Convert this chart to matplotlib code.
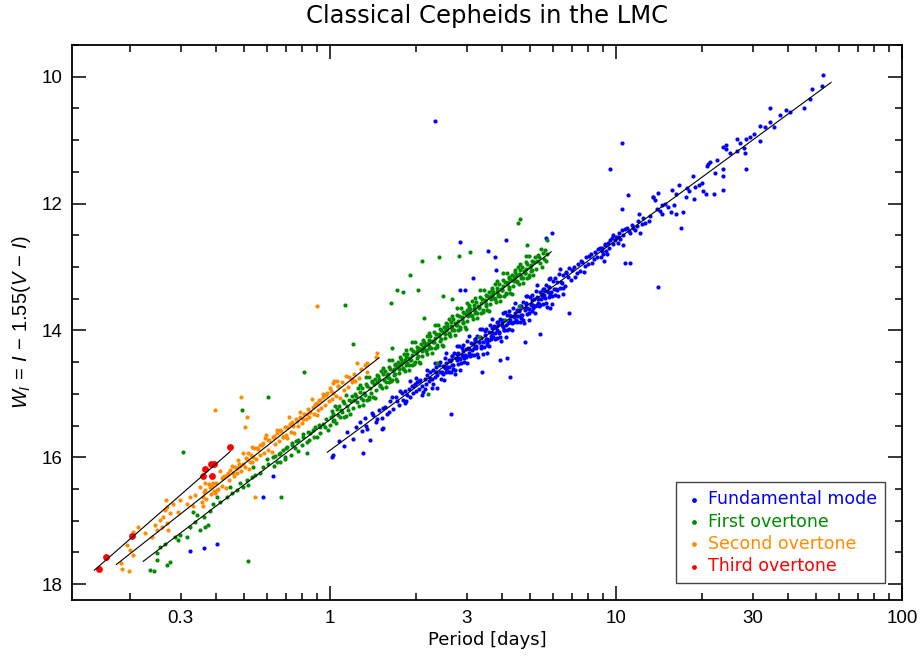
"""
Relation période-luminosité (Wesenheit) des Céphéides classiques du LMC.
Produit : out.png
"""

import numpy as np
import matplotlib
matplotlib.use("Agg")
import matplotlib.pyplot as plt
from matplotlib.ticker import FixedLocator, FuncFormatter, MultipleLocator

# Points : (log10 P [jours], W_I)
fund_pts = np.array([
    (0.01, 15.97), (0.03, 15.74), (0.05, 15.82), (0.06, 15.60), (0.08, 15.71),
    (0.09, 15.52), (0.11, 15.58), (0.12, 15.38), (0.13, 15.55), (0.15, 15.34),
    (0.16, 15.45), (0.17, 15.25), (0.18, 15.38), (0.19, 15.20), (0.20, 15.31),
    (0.21, 15.12), (0.22, 15.24), (0.23, 15.05), (0.24, 15.18), (0.25, 14.98),
    (0.255, 15.10), (0.26, 14.95), (0.265, 15.12), (0.27, 15.01), (0.275, 14.92),
    (0.28, 15.05), (0.285, 14.88), (0.29, 14.99), (0.295, 14.85), (0.30, 14.96),
    (0.305, 14.82), (0.31, 14.93), (0.315, 14.78), (0.32, 14.88), (0.325, 14.97),
    (0.33, 14.76), (0.335, 14.84), (0.34, 14.70), (0.345, 14.80), (0.35, 14.65),
    (0.355, 14.77), (0.36, 14.62), (0.365, 14.74), (0.37, 14.58), (0.375, 14.70),
    (0.28, 14.80), (0.30, 14.75), (0.32, 15.02), (0.34, 14.62), (0.36, 14.85),
    (0.105, 15.45), (0.125, 15.50), (0.145, 15.30), (0.165, 15.40), (0.185, 15.22),
    (0.205, 15.28), (0.215, 15.05), (0.235, 15.12), (0.245, 14.96), (0.26, 15.15),
    (0.29, 14.88), (0.31, 14.80), (0.33, 14.92), (0.35, 14.75), (0.37, 14.66),
    (0.380, 14.54), (0.384, 14.66), (0.387, 14.76), (0.390, 14.66), (0.394, 14.56),
    (0.397, 14.78), (0.400, 14.44), (0.404, 14.66), (0.407, 14.57), (0.410, 14.64),
    (0.414, 14.46), (0.417, 14.57), (0.420, 14.48), (0.424, 14.65), (0.427, 14.40),
    (0.430, 14.55), (0.434, 14.35), (0.437, 14.69), (0.440, 14.44), (0.444, 14.37),
    (0.447, 14.53), (0.450, 14.24), (0.454, 14.45), (0.457, 14.52), (0.460, 14.28),
    (0.464, 14.40), (0.467, 14.50), (0.470, 14.39), (0.474, 14.29), (0.477, 14.51),
    (0.480, 14.17), (0.484, 14.39), (0.487, 14.30), (0.490, 14.38), (0.494, 14.20),
    (0.497, 14.31), (0.500, 14.22), (0.504, 14.39), (0.507, 14.14), (0.510, 14.28),
    (0.514, 14.08), (0.517, 14.42), (0.520, 14.18), (0.524, 14.11), (0.527, 14.27),
    (0.530, 13.98), (0.534, 14.19), (0.537, 14.26), (0.540, 14.01), (0.544, 14.13),
    (0.547, 14.23), (0.550, 14.13), (0.554, 14.03), (0.557, 14.25), (0.560, 13.91),
    (0.564, 14.13), (0.567, 14.04), (0.570, 14.11), (0.574, 13.93), (0.577, 14.04),
    (0.580, 13.95), (0.584, 14.12), (0.587, 13.87), (0.590, 14.02), (0.594, 13.82),
    (0.597, 14.16), (0.600, 13.91), (0.604, 13.84), (0.607, 14.00), (0.610, 13.71),
    (0.614, 13.92), (0.617, 13.99), (0.620, 13.75), (0.624, 13.87), (0.627, 13.97),
    (0.630, 13.87), (0.634, 13.77), (0.637, 13.99), (0.640, 13.64), (0.644, 13.86),
    (0.647, 13.77), (0.650, 13.85), (0.654, 13.67), (0.657, 13.78), (0.660, 13.69),
    (0.664, 13.86), (0.667, 13.61), (0.670, 13.75), (0.674, 13.55), (0.677, 13.89),
    (0.680, 13.65), (0.684, 13.58), (0.687, 13.74), (0.690, 13.45), (0.694, 13.66),
    (0.697, 13.73), (0.700, 13.48), (0.704, 13.60), (0.707, 13.70), (0.710, 13.60),
    (0.714, 13.50), (0.717, 13.72), (0.720, 13.38), (0.724, 13.60), (0.727, 13.51),
    (0.730, 13.58), (0.734, 13.40), (0.737, 13.51), (0.740, 13.42), (0.744, 13.59),
    (0.747, 13.34), (0.750, 13.49), (0.754, 13.29), (0.757, 13.63), (0.760, 13.38),
    (0.764, 13.31), (0.767, 13.47), (0.770, 13.18), (0.774, 13.39), (0.777, 13.46),
    (0.780, 13.22), (0.784, 13.34), (0.787, 13.44), (0.790, 13.34), (0.794, 13.24),
    (0.797, 13.46), (0.800, 13.11), (0.804, 13.33), (0.807, 13.24),
    (0.402, 14.59), (0.406, 14.52), (0.409, 14.64), (0.422, 14.47), (0.426, 14.55),
    (0.429, 14.60), (0.442, 14.47), (0.446, 14.35), (0.449, 14.43), (0.462, 14.39),
    (0.466, 14.32), (0.469, 14.44), (0.482, 14.27), (0.486, 14.35), (0.489, 14.40),
    (0.502, 14.28), (0.506, 14.16), (0.509, 14.24), (0.522, 14.19), (0.526, 14.12),
    (0.529, 14.24), (0.542, 14.07), (0.546, 14.15), (0.549, 14.20), (0.562, 14.08),
    (0.566, 13.96), (0.569, 14.04), (0.582, 13.99), (0.586, 13.92), (0.589, 14.04),
    (0.602, 13.87), (0.606, 13.95), (0.609, 14.00), (0.622, 13.88), (0.626, 13.76),
    (0.629, 13.84), (0.642, 13.79), (0.646, 13.72), (0.649, 13.84), (0.662, 13.68),
    (0.666, 13.76), (0.669, 13.81), (0.682, 13.68), (0.686, 13.56), (0.689, 13.64),
    (0.702, 13.59), (0.706, 13.52), (0.709, 13.64), (0.722, 13.48), (0.726, 13.56),
    (0.729, 13.61), (0.742, 13.48), (0.746, 13.36), (0.749, 13.44), (0.762, 13.39),
    (0.766, 13.32), (0.769, 13.44),
    (0.355, 14.90), (0.365, 14.51), (0.375, 14.90), (0.385, 14.50), (0.395, 14.68),
    (0.405, 14.35), (0.415, 14.66), (0.425, 14.40), (0.435, 14.63), (0.445, 14.25),
    (0.455, 14.63), (0.465, 14.23), (0.475, 14.42), (0.485, 14.08), (0.495, 14.39),
    (0.505, 14.14), (0.515, 14.37), (0.525, 13.98), (0.535, 14.37), (0.545, 13.97),
    (0.555, 14.15), (0.565, 13.82), (0.575, 14.13), (0.585, 13.87), (0.595, 14.10),
    (0.605, 13.72), (0.615, 14.10), (0.625, 13.70), (0.635, 13.89), (0.645, 13.56),
    (0.655, 13.86), (0.665, 13.61), (0.675, 13.84), (0.685, 13.45), (0.695, 13.84),
    (0.705, 13.44), (0.715, 13.62), (0.725, 13.29), (0.735, 13.60), (0.745, 13.34),
    (0.755, 13.57), (0.765, 13.19), (0.775, 13.58), (0.785, 13.17), (0.795, 13.36),
    (0.805, 13.03), (0.815, 13.33), (0.825, 13.08),
    (0.812, 13.25), (0.816, 13.12), (0.822, 13.30), (0.826, 13.10), (0.832, 13.16),
    (0.836, 13.02), (0.842, 13.20), (0.846, 13.05), (0.852, 13.00), (0.856, 13.15),
    (0.862, 13.10), (0.866, 12.96), (0.872, 13.06), (0.876, 12.90), (0.882, 12.92),
    (0.886, 13.08), (0.892, 12.99), (0.896, 12.85), (0.902, 12.95), (0.906, 12.82),
    (0.912, 12.80), (0.916, 12.93), (0.922, 12.88), (0.926, 12.76), (0.932, 12.85),
    (0.936, 12.72), (0.942, 12.70), (0.946, 12.84),
    (0.950, 12.70), (0.955, 12.80), (0.960, 12.66), (0.965, 12.75), (0.970, 12.62),
    (0.975, 12.70), (0.985, 12.55), (0.990, 12.64), (0.995, 12.58), (1.000, 12.52),
    (1.005, 12.62), (1.010, 12.47), (1.015, 12.56), (1.025, 12.50), (1.030, 12.40),
    (1.045, 12.44), (1.055, 12.33), (1.065, 12.42), (1.075, 12.28), (1.100, 12.30),
    (1.724, 9.98), (1.720, 10.14), (1.685, 10.19), (1.678, 10.35), (1.657, 10.49),
    (1.595, 10.52), (1.538, 10.49), (1.538, 10.71), (1.573, 10.61), (1.552, 10.79),
    (1.503, 10.77), (1.503, 11.02), (1.483, 10.90), (1.455, 10.98), (1.423, 10.98),
    (1.434, 11.05), (1.448, 11.13), (1.451, 11.21), (1.423, 11.17), (1.385, 11.08),
    (1.374, 11.11), (1.385, 11.14), (1.353, 11.32), (1.322, 11.37), (1.330, 11.34),
    (1.318, 11.40), (1.346, 11.51), (1.374, 11.46), (1.374, 11.57), (1.374, 11.78),
    (1.343, 11.85), (1.269, 11.57), (1.301, 11.67), (1.290, 11.70), (1.276, 11.74),
    (1.248, 11.76), (1.220, 11.70), (1.196, 11.78), (1.210, 11.85), (1.245, 11.90),
    (1.273, 11.92), (1.315, 11.85), (1.305, 11.80), (1.234, 12.14), (1.203, 12.03),
    (1.192, 12.14), (1.208, 12.17), (1.182, 12.05), (1.161, 12.02), (1.147, 11.83),
    (1.130, 11.90), (1.137, 11.95), (1.143, 12.08), (1.161, 12.16), (1.152, 12.12),
    (1.115, 12.27), (1.094, 12.22), (1.080, 12.16), (1.091, 12.32), (1.073, 12.35),
    (1.060, 12.39), (1.038, 12.39), (1.049, 12.47), (1.021, 12.42), (1.007, 12.53),
    (0.990, 12.50), (0.979, 12.58), (0.962, 12.63), (0.951, 12.74), (0.969, 12.79),
    (0.958, 12.90), (1.024, 12.66), (1.084, 12.47), (1.120, 12.20), (1.170, 12.00),
    (1.255, 11.80), (1.400, 11.20), (1.470, 10.95), (1.520, 10.80), (1.610, 10.55),
    (-0.49, 17.48), (-0.44, 17.43), (-0.395, 17.37), (-0.20, 16.30), (-0.234, 16.63),
    (0.007, 16.00), (0.115, 15.94), (0.14, 15.72), (0.18, 15.55), (0.367, 10.70),
    (0.455, 12.60), (0.552, 12.74), (0.615, 12.58), (0.577, 12.85), (0.755, 12.55),
    (0.776, 12.47), (0.50, 13.18), (0.455, 13.37), (0.47, 13.37), (0.58, 13.04),
    (1.03, 12.93), (1.05, 12.93), (1.147, 13.32), (0.423, 15.31), (0.185, 15.54),
    (0.629, 14.74), (1.04, 11.87), (1.13, 11.90), (1.02, 12.08), (1.02, 11.04),
    (0.98, 11.45), (1.227, 12.39), (1.455, 11.45), (0.619, 14.44), (0.68, 14.19),
    (0.734, 14.06), (0.77, 13.65), (0.815, 13.43), (0.836, 13.73), (0.53, 14.66),
    (0.594, 14.47), (0.55, 14.36),
])

first_pts = np.array([
    (-0.629, 17.78), (-0.615, 17.79), (-0.605, 17.51), (-0.570, 17.70), (-0.560, 17.65),
    (-0.605, 17.62), (-0.594, 17.42), (-0.577, 17.36), (-0.531, 17.31), (-0.524, 17.23),
    (-0.500, 17.26), (-0.542, 17.26), (-0.490, 17.10), (-0.472, 17.02), (-0.455, 17.15),
    (-0.437, 17.10), (-0.427, 17.07), (-0.465, 16.91), (-0.479, 16.87), (-0.440, 16.94),
    (-0.420, 16.84), (-0.409, 16.73), (-0.385, 16.71), (-0.395, 16.63), (-0.360, 16.63),
    (-0.343, 16.57), (-0.350, 16.47), (-0.325, 16.52), (-0.315, 16.41), (-0.304, 16.47),
    (-0.290, 16.36), (-0.287, 16.44), (-0.273, 16.31), (-0.262, 16.28), (-0.269, 16.16),
    (-0.245, 16.25), (-0.234, 16.16), (-0.217, 16.10), (-0.220, 16.02), (-0.200, 16.00),
    (-0.185, 16.08), (-0.175, 15.94), (-0.164, 15.89), (-0.150, 15.84), (-0.157, 16.02),
    (-0.133, 15.78), (-0.122, 15.86), (-0.112, 15.73), (-0.094, 15.68), (-0.080, 15.76),
    (-0.070, 15.62), (-0.059, 15.57), (-0.045, 15.68), (-0.035, 15.53), (-0.024, 15.47),
    (-0.007, 15.57), (0.010, 15.42), (-0.080, 15.94),
    (-0.198, 16.14), (-0.194, 15.98), (-0.178, 15.95), (-0.174, 16.08), (-0.158, 15.99),
    (-0.154, 15.85), (-0.138, 15.96), (-0.134, 15.80), (-0.118, 15.75), (-0.114, 15.90),
    (-0.098, 15.80), (-0.094, 15.64), (-0.078, 15.60), (-0.074, 15.72), (-0.058, 15.68),
    (-0.054, 15.52), (-0.038, 15.49), (-0.034, 15.62), (-0.018, 15.52), (-0.014, 15.40),
    (0.000, 15.49), (0.004, 15.37), (0.007, 15.27), (0.010, 15.31), (0.014, 15.41),
    (0.017, 15.19), (0.020, 15.46), (0.024, 15.24), (0.027, 15.33), (0.030, 15.19),
    (0.034, 15.37), (0.037, 15.26), (0.040, 15.28), (0.044, 15.11), (0.047, 15.36),
    (0.050, 15.15), (0.054, 15.35), (0.057, 15.01), (0.060, 15.19), (0.064, 15.26),
    (0.067, 15.10), (0.070, 15.32), (0.074, 15.11), (0.077, 15.04), (0.080, 15.22),
    (0.084, 15.10), (0.087, 15.00), (0.090, 15.03), (0.094, 15.13), (0.097, 14.91),
    (0.100, 15.19), (0.104, 14.97), (0.107, 15.06), (0.110, 14.91), (0.114, 15.09),
    (0.117, 14.98), (0.120, 15.01), (0.124, 14.84), (0.127, 15.09), (0.130, 14.88),
    (0.134, 15.08), (0.137, 14.74), (0.140, 14.91), (0.144, 14.98), (0.147, 14.82),
    (0.150, 15.05), (0.154, 14.84), (0.157, 14.77), (0.160, 14.94), (0.164, 14.82),
    (0.167, 14.72), (0.170, 14.76), (0.174, 14.86), (0.177, 14.64), (0.180, 14.91),
    (0.184, 14.69), (0.187, 14.78), (0.190, 14.64), (0.194, 14.82), (0.197, 14.71),
    (0.200, 14.74), (0.204, 14.57), (0.207, 14.82), (0.210, 14.60), (0.214, 14.80),
    (0.217, 14.46), (0.220, 14.64), (0.224, 14.71), (0.227, 14.55), (0.230, 14.77),
    (0.234, 14.56), (0.237, 14.49), (0.240, 14.67), (0.244, 14.55), (0.247, 14.45),
    (0.250, 14.49), (0.254, 14.59), (0.257, 14.37), (0.260, 14.64), (0.264, 14.42),
    (0.267, 14.51), (0.270, 14.37), (0.274, 14.55), (0.277, 14.44), (0.280, 14.46),
    (0.284, 14.29), (0.287, 14.54), (0.290, 14.33), (0.294, 14.53), (0.297, 14.19),
    (0.300, 14.36), (0.304, 14.43), (0.307, 14.27), (0.310, 14.50), (0.314, 14.29),
    (0.317, 14.22), (0.320, 14.40), (0.324, 14.28), (0.327, 14.18), (0.330, 14.21),
    (0.334, 14.31), (0.337, 14.09), (0.340, 14.37), (0.344, 14.15), (0.347, 14.24),
    (0.350, 14.09), (0.354, 14.27), (0.357, 14.16), (0.360, 14.19), (0.364, 14.02),
    (0.367, 14.27), (0.370, 14.06), (0.374, 14.26), (0.377, 13.92), (0.380, 14.09),
    (0.384, 14.16), (0.387, 14.00), (0.390, 14.23), (0.394, 14.02), (0.397, 13.95),
    (0.400, 14.12), (0.404, 14.00), (0.407, 13.90), (0.410, 13.94), (0.414, 14.04),
    (0.417, 13.82), (0.420, 14.09), (0.424, 13.87), (0.427, 13.96), (0.430, 13.82),
    (0.434, 14.00), (0.437, 13.89), (0.440, 13.92), (0.444, 13.75), (0.447, 14.00),
    (0.450, 13.78), (0.454, 13.98), (0.457, 13.64), (0.460, 13.82), (0.464, 13.89),
    (0.467, 13.73), (0.470, 13.95), (0.474, 13.74), (0.477, 13.67), (0.480, 13.85),
    (0.484, 13.73), (0.487, 13.63), (0.490, 13.66), (0.494, 13.76), (0.497, 13.54),
    (0.500, 13.82), (0.504, 13.60), (0.507, 13.69), (0.510, 13.55), (0.514, 13.73),
    (0.517, 13.62), (0.520, 13.64), (0.524, 13.47), (0.527, 13.72), (0.530, 13.51),
    (0.534, 13.71), (0.537, 13.37), (0.540, 13.54), (0.544, 13.61), (0.547, 13.45),
    (0.550, 13.68), (0.554, 13.47), (0.557, 13.40), (0.560, 13.58), (0.564, 13.46),
    (0.567, 13.36), (0.570, 13.39), (0.574, 13.49), (0.577, 13.27), (0.580, 13.55),
    (0.584, 13.33), (0.587, 13.42), (0.590, 13.27), (0.594, 13.45), (0.597, 13.34),
    (0.600, 13.37), (0.604, 13.20), (0.607, 13.45), (0.610, 13.23), (0.614, 13.43),
    (0.617, 13.09), (0.620, 13.27), (0.624, 13.34), (0.627, 13.18), (0.630, 13.41),
    (0.634, 13.20), (0.637, 13.13), (0.640, 13.30), (0.644, 13.18), (0.647, 13.08),
    (0.650, 13.12), (0.654, 13.22), (0.657, 13.00), (0.660, 13.27), (0.664, 13.05),
    (0.667, 13.14), (0.670, 13.00), (0.674, 13.18), (0.677, 13.07), (0.680, 13.09),
    (0.684, 12.92), (0.687, 13.17), (0.690, 12.96), (0.694, 13.16), (0.697, 12.82),
    (0.700, 13.00), (0.704, 13.07), (0.707, 12.91), (0.710, 13.13), (0.714, 12.92),
    (0.717, 12.85), (0.720, 13.03), (0.724, 12.91), (0.727, 12.81), (0.730, 12.84),
    (0.734, 12.94), (0.737, 12.72), (0.740, 13.00), (0.744, 12.78), (0.747, 12.87),
    (0.750, 12.73), (0.754, 12.91), (0.757, 12.80),
    (0.202, 14.69), (0.206, 14.75), (0.222, 14.61), (0.226, 14.68), (0.242, 14.60),
    (0.246, 14.53), (0.262, 14.47), (0.266, 14.55), (0.282, 14.46), (0.286, 14.39),
    (0.302, 14.33), (0.306, 14.40), (0.322, 14.32), (0.326, 14.26), (0.342, 14.20),
    (0.346, 14.27), (0.362, 14.19), (0.366, 14.12), (0.382, 14.06), (0.386, 14.13),
    (0.402, 14.05), (0.406, 13.98), (0.422, 13.93), (0.426, 14.00), (0.442, 13.91),
    (0.446, 13.85), (0.462, 13.79), (0.466, 13.86), (0.482, 13.77), (0.486, 13.71),
    (0.502, 13.65), (0.506, 13.72), (0.522, 13.63), (0.526, 13.57), (0.542, 13.52),
    (0.546, 13.59), (0.562, 13.50), (0.566, 13.44), (0.582, 13.38), (0.586, 13.45),
    (0.602, 13.36), (0.606, 13.30), (0.622, 13.24), (0.626, 13.31), (0.642, 13.22),
    (0.646, 13.16), (0.662, 13.11), (0.666, 13.18), (0.682, 13.09), (0.686, 13.03),
    (0.702, 12.97), (0.706, 13.04),
    (0.105, 14.86), (0.115, 15.17), (0.125, 14.73), (0.135, 15.05), (0.145, 14.80),
    (0.155, 15.07), (0.165, 14.70), (0.175, 14.87), (0.185, 14.59), (0.195, 14.89),
    (0.205, 14.46), (0.215, 14.78), (0.225, 14.53), (0.235, 14.80), (0.245, 14.42),
    (0.255, 14.60), (0.265, 14.31), (0.275, 14.62), (0.285, 14.19), (0.295, 14.50),
    (0.305, 14.26), (0.315, 14.52), (0.325, 14.15), (0.335, 14.32), (0.345, 14.04),
    (0.355, 14.35), (0.365, 13.91), (0.375, 14.23), (0.385, 13.98), (0.395, 14.25),
    (0.405, 13.88), (0.415, 14.05), (0.425, 13.77), (0.435, 14.07), (0.445, 13.64),
    (0.455, 13.95), (0.465, 13.71), (0.475, 13.98), (0.485, 13.60), (0.495, 13.78),
    (0.505, 13.49), (0.515, 13.80), (0.525, 13.37), (0.535, 13.68), (0.545, 13.44),
    (0.555, 13.70), (0.565, 13.33), (0.575, 13.50), (0.585, 13.22), (0.595, 13.53),
    (0.605, 13.09), (0.615, 13.41), (0.625, 13.16), (0.635, 13.43), (0.645, 13.05),
    (0.655, 13.23), (0.665, 12.95), (0.675, 13.25), (0.685, 12.82), (0.695, 13.13),
    (-0.514, 15.92), (-0.287, 17.64), (-0.171, 16.63), (-0.308, 15.26), (-0.217, 15.05),
    (-0.091, 14.66), (0.080, 14.22), (0.217, 14.28), (0.664, 12.24), (0.657, 12.31),
    (0.689, 12.66), (0.759, 12.57), (0.490, 12.76), (0.451, 12.82), (0.381, 12.85),
    (0.322, 12.91), (0.280, 13.13), (0.234, 13.37), (0.255, 13.39), (0.308, 13.37),
    (0.395, 13.46), (0.427, 13.51), (0.213, 13.57), (0.329, 13.81), (0.479, 13.57),
    (0.661, 13.61), (0.612, 13.83), (0.521, 14.11), (0.374, 14.52), (0.343, 15.00),
    (0.052, 13.60),
])

second_pts = np.array([
    (-0.732, 17.67), (-0.705, 17.79), (-0.729, 17.76), (-0.711, 17.39), (-0.699, 17.46),
    (-0.689, 17.54), (-0.689, 17.18), (-0.671, 17.10), (-0.647, 17.20), (-0.622, 17.26),
    (-0.612, 17.07), (-0.605, 17.15), (-0.587, 17.10), (-0.594, 16.99), (-0.584, 16.94),
    (-0.570, 17.04), (-0.566, 17.15), (-0.559, 16.88), (-0.577, 16.83), (-0.573, 16.68),
    (-0.570, 16.79), (-0.549, 16.73), (-0.531, 16.87), (-0.524, 16.68), (-0.500, 16.73),
    (-0.490, 16.63), (-0.479, 16.76), (-0.472, 16.60), (-0.448, 16.71), (-0.444, 16.63),
    (-0.440, 16.55), (-0.455, 16.47), (-0.437, 16.41), (-0.420, 16.47), (-0.402, 16.57),
    (-0.395, 16.52), (-0.409, 16.41), (-0.378, 16.33), (-0.374, 16.31), (-0.360, 16.28),
    (-0.350, 16.20), (-0.339, 16.25), (-0.325, 16.17), (-0.315, 16.13), (-0.322, 16.05),
    (-0.304, 16.10), (-0.290, 16.02), (-0.280, 16.08), (-0.269, 16.00), (-0.287, 15.94),
    (-0.273, 15.84), (-0.255, 15.86), (-0.245, 15.81), (-0.234, 15.78), (-0.227, 15.70),
    (-0.217, 15.73), (-0.199, 15.68), (-0.185, 15.62), (-0.175, 15.57), (-0.164, 15.68),
    (-0.150, 15.53), (-0.140, 15.47), (-0.129, 15.50), (-0.115, 15.42), (-0.105, 15.37),
    (-0.094, 15.39), (-0.080, 15.31), (-0.070, 15.29), (-0.059, 15.21), (-0.045, 15.15),
    (-0.035, 15.10), (-0.024, 15.05), (-0.010, 14.99), (0.000, 14.91), (0.010, 14.83),
    (0.024, 14.79), (0.028, 14.87), (0.010, 14.98), (-0.042, 15.26), (-0.150, 15.70),
    (-0.438, 16.52), (-0.433, 16.66), (-0.418, 16.58), (-0.413, 16.44), (-0.398, 16.40),
    (-0.393, 16.50), (-0.378, 16.46), (-0.373, 16.30), (-0.358, 16.25), (-0.353, 16.36),
    (-0.338, 16.30), (-0.333, 16.15), (-0.318, 16.10), (-0.313, 16.22), (-0.298, 16.16),
    (-0.293, 16.01), (-0.278, 15.96), (-0.273, 16.08), (-0.258, 16.02), (-0.253, 15.87),
    (-0.238, 15.81), (-0.233, 15.93), (-0.218, 15.88), (-0.213, 15.73), (-0.198, 15.67),
    (-0.193, 15.79), (-0.178, 15.74), (-0.173, 15.59), (-0.158, 15.53), (-0.153, 15.65),
    (-0.138, 15.60), (-0.133, 15.45), (-0.118, 15.39), (-0.113, 15.51), (-0.098, 15.46),
    (-0.093, 15.31), (-0.078, 15.24), (-0.073, 15.36), (-0.058, 15.31), (-0.053, 15.16),
    (-0.038, 15.10), (-0.033, 15.22), (-0.018, 15.17), (-0.013, 15.02), (0.002, 14.96),
    (0.007, 15.08), (0.022, 15.03), (0.027, 14.88), (0.042, 14.82), (0.047, 14.94),
    (0.062, 14.89), (0.067, 14.74), (0.082, 14.68), (0.087, 14.80), (0.102, 14.75),
    (0.107, 14.60), (0.122, 14.55), (0.127, 14.66),
    (-0.445, 16.76), (-0.425, 16.42), (-0.405, 16.53), (-0.385, 16.22), (-0.365, 16.48),
    (-0.345, 16.14), (-0.325, 16.24), (-0.305, 15.93), (-0.285, 16.19), (-0.265, 15.85),
    (-0.245, 15.96), (-0.225, 15.65), (-0.205, 15.91), (-0.185, 15.57), (-0.165, 15.68),
    (-0.145, 15.37), (-0.125, 15.62), (-0.105, 15.28), (-0.085, 15.39), (-0.065, 15.08),
    (-0.045, 15.34), (-0.025, 15.00), (-0.005, 15.11), (0.015, 14.80), (0.035, 15.06),
    (0.055, 14.72), (0.075, 14.82), (0.095, 14.51),
    (-0.311, 15.05), (-0.402, 15.26), (-0.290, 15.37), (-0.297, 15.53), (-0.262, 16.63),
    (0.077, 14.76), (0.164, 14.35), (0.161, 14.42), (0.129, 14.52), (-0.045, 13.61),
])

third_pts = np.array([
    (-0.807, 17.76), (-0.784, 17.57), (-0.693, 17.24), (-0.446, 16.29), (-0.437, 16.18),
    (-0.416, 16.10), (-0.406, 16.11), (-0.413, 16.30), (-0.349, 15.83),
])

# Droites d'ajustement : extrémités
fit_logp = [(-0.010, 1.752), (-0.654, 0.773), (-0.748, 0.171), (-0.825, -0.350)]
fit_w = [(15.92, 10.09), (17.64, 12.76), (17.69, 14.43), (17.78, 15.91)]

modes = ["Fundamental mode", "First overtone", "Second overtone", "Third overtone"]
couleurs = ["#0000ff", "#008c00", "#ff8c00", "#ff0000"]

plt.rcParams.update({
    "font.family": ["DejaVu Sans"],
    "mathtext.fontset": "custom",
    "mathtext.rm": "Liberation Sans",
    "mathtext.it": "Liberation Sans:italic",
    "axes.linewidth": 1.3,
})

fig = plt.figure(figsize=(9.22, 6.59), dpi=100)
ax = fig.add_axes([0.0781, 0.0895, 0.9002, 0.8422])

tailles = [9, 9, 9, 24]
for pts, nom, c, s in zip([fund_pts, first_pts, second_pts, third_pts],
                          modes, couleurs, tailles):
    ax.scatter(10 ** pts[:, 0], pts[:, 1], s=s, color=c, linewidths=0, label=nom)

for lp, w in zip(fit_logp, fit_w):
    ax.plot(10 ** np.array(lp), w, color="black", linewidth=0.8)

ax.set_xscale("log")
ax.set_xlim(0.125, 100)
ax.set_ylim(18.25, 9.5)

# Graduations à la IDL : longues aux décades, 0.3 / 3 / 30 étiquetées aussi
ax.xaxis.set_major_locator(FixedLocator([0.1, 1, 10, 100]))
ax.xaxis.set_major_formatter(FuncFormatter(lambda v, p: f"{v:g}"))
mineures = [k * d for d in (0.1, 1, 10) for k in range(2, 10)]
ax.xaxis.set_minor_locator(FixedLocator(mineures))
ax.xaxis.set_minor_formatter(FuncFormatter(
    lambda v, p: f"{v:g}" if round(v, 3) in (0.3, 3, 30) else ""))
ax.yaxis.set_major_locator(FixedLocator([10, 12, 14, 16, 18]))
ax.yaxis.set_minor_locator(MultipleLocator(0.5))

ax.tick_params(which="both", direction="in", top=True, right=True,
               labelsize=13.5, pad=7, width=1.1, labelfontfamily="Liberation Sans")
ax.tick_params(which="major", length=10)
ax.tick_params(which="minor", length=5)

ax.set_xlabel("Period [days]", fontsize=13, labelpad=3)
ax.set_ylabel(r"$W_I\,=\,I\,-\,1.55(V\,-\,I)$", fontsize=14.5, labelpad=6)
fig.text(0.528, 0.975, "Classical Cepheids in the LMC", ha="center", va="center",
         fontsize=17.5)

leg = ax.legend(loc="lower right", bbox_to_anchor=(0.9795, 0.0306),
                borderaxespad=0, fancybox=False, framealpha=1,
                edgecolor="#444444", handletextpad=0.2, labelspacing=0.25,
                borderpad=0.45, handlelength=1.2, scatterpoints=1, fontsize=12.5)
leg.get_frame().set_linewidth(1.0)
for h in leg.legend_handles:
    h.set_sizes([12])
for t, c in zip(leg.get_texts(), couleurs):
    t.set_color(c)

fig.savefig("out.png", dpi=100)
